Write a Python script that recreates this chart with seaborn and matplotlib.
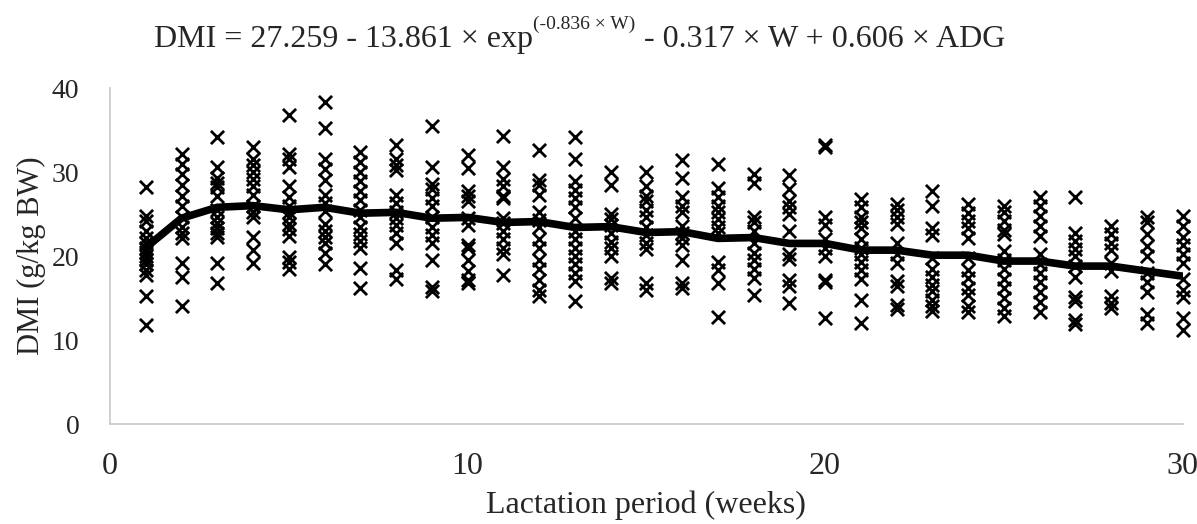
import matplotlib
matplotlib.use("Agg")
import matplotlib.pyplot as plt
import seaborn as sns
import pandas as pd

week_01 = [28.2, 24.8, 24.2, 23.0, 22.2, 21.5, 21.0, 20.5, 20.0, 19.5, 19.0, 18.3, 17.8, 15.2, 11.8]
week_02 = [32.2, 31.0, 29.8, 28.5, 27.2, 26.0, 24.6, 23.5, 22.8, 22.2, 19.2, 17.5, 14.0]
week_03 = [34.2, 30.6, 29.3, 28.7, 28.2, 27.1, 25.5, 24.7, 23.9, 23.3, 22.8, 22.3, 19.2, 16.8]
week_04 = [33.0, 31.5, 30.8, 30.0, 29.2, 28.3, 27.3, 26.0, 25.2, 24.7, 22.3, 20.7, 19.2]
week_05 = [36.8, 32.2, 31.6, 30.6, 28.3, 27.0, 25.9, 25.2, 24.6, 23.8, 23.2, 22.4, 19.9, 19.3, 18.4]
week_06 = [38.3, 35.3, 31.6, 30.4, 29.1, 27.3, 26.3, 25.4, 23.8, 23.0, 22.3, 21.6, 20.4, 19.0]
week_07 = [32.4, 31.2, 30.0, 28.9, 27.8, 26.7, 25.5, 24.6, 23.5, 22.6, 21.8, 21.0, 18.6, 16.2]
week_08 = [33.2, 31.5, 30.8, 30.2, 27.3, 26.3, 25.2, 24.5, 23.7, 22.7, 21.5, 18.3, 17.3]
week_09 = [35.5, 30.6, 28.6, 28.0, 26.9, 25.9, 24.7, 23.5, 22.5, 21.5, 19.5, 16.3, 15.8]
week_10 = [32.0, 30.5, 27.8, 27.2, 26.6, 24.5, 23.7, 21.3, 20.9, 19.5, 18.2, 17.2, 16.8]
week_11 = [34.3, 30.6, 29.2, 28.3, 27.2, 26.9, 24.5, 23.9, 23.0, 22.0, 21.0, 20.3, 17.7]
week_12 = [32.6, 29.0, 28.4, 27.3, 25.2, 24.3, 23.5, 22.0, 21.0, 19.5, 18.5, 17.2, 16.0, 15.2]
week_13 = [34.2, 31.5, 28.9, 27.9, 26.9, 25.8, 24.5, 23.0, 22.0, 21.0, 20.0, 19.0, 18.0, 17.0, 14.6]
week_14 = [30.0, 28.5, 25.0, 24.4, 23.7, 22.7, 21.7, 21.0, 20.0, 17.4, 16.8]
week_15 = [30.0, 28.3, 27.2, 26.5, 25.5, 24.6, 23.5, 22.5, 21.5, 20.8, 16.8, 15.9]
week_16 = [31.4, 29.3, 27.0, 26.0, 25.2, 23.6, 22.8, 22.2, 21.3, 19.5, 16.8, 16.2]
week_17 = [31.0, 28.1, 27.0, 26.0, 25.2, 24.4, 23.5, 22.7, 19.3, 18.3, 16.8, 12.7]
week_18 = [29.8, 28.7, 24.6, 24.0, 23.0, 21.6, 20.4, 19.5, 18.4, 17.4, 15.4]
week_19 = [29.7, 28.0, 26.6, 25.8, 25.0, 23.0, 20.2, 19.6, 17.2, 16.4, 14.4]
week_20 = [33.2, 33.0, 24.6, 23.7, 22.0, 20.9, 20.0, 17.2, 16.9, 12.6]
week_21 = [26.8, 25.8, 24.7, 24.0, 23.3, 22.0, 21.0, 20.3, 19.3, 18.3, 17.3, 14.8, 12.0]
week_22 = [26.2, 25.5, 24.6, 23.8, 21.6, 20.3, 19.2, 17.0, 16.4, 14.2, 13.7]
week_23 = [27.8, 25.9, 23.3, 22.5, 19.8, 18.5, 17.5, 16.6, 15.8, 14.8, 14.0, 13.4]
week_24 = [26.2, 25.1, 24.2, 23.3, 22.2, 19.8, 18.3, 17.4, 16.2, 15.4, 14.0, 13.3]
week_25 = [26.0, 25.3, 24.2, 23.1, 22.6, 20.6, 19.5, 18.4, 17.3, 16.2, 15.0, 13.8, 12.9]
week_26 = [27.0, 25.9, 24.8, 23.6, 22.4, 20.3, 19.1, 18.0, 16.9, 15.7, 14.5, 13.3]
week_27 = [27.0, 22.8, 21.8, 20.8, 20.0, 18.8, 17.5, 15.1, 14.6, 12.4, 11.9]
week_28 = [23.6, 22.6, 21.6, 20.7, 19.2, 18.2, 15.3, 14.4, 13.8]
week_29 = [24.7, 24.0, 22.6, 21.2, 20.0, 18.0, 16.9, 15.7, 13.1, 12.0]
week_30 = [24.8, 23.6, 22.3, 21.3, 20.3, 19.2, 17.3, 16.0, 15.1, 12.6, 11.2]

# fitted curve per week
weeks = list(range(1, 31))
fit_dmi = [21.0, 24.5, 25.8, 26.0, 25.5, 25.8, 25.1, 25.2, 24.5, 24.6,
           24.0, 24.1, 23.4, 23.5, 22.8, 22.9, 22.1, 22.2, 21.5, 21.5,
           20.7, 20.7, 20.1, 20.1, 19.4, 19.4, 18.8, 18.8, 18.2, 17.6]

obs = [week_01, week_02, week_03, week_04, week_05, week_06, week_07, week_08,
       week_09, week_10, week_11, week_12, week_13, week_14, week_15, week_16,
       week_17, week_18, week_19, week_20, week_21, week_22, week_23, week_24,
       week_25, week_26, week_27, week_28, week_29, week_30]

rows = []
for w, vals in zip(weeks, obs):
    for v in vals:
        rows.append({"week": w, "dmi": v})
df = pd.DataFrame(rows)
fit = pd.DataFrame({"week": weeks, "dmi": fit_dmi})

sns.set_style("white")
plt.rcParams["font.family"] = ["Liberation Serif", "DejaVu Serif"]

fig = plt.figure(figsize=(11.97, 5.24), dpi=100)
ax = fig.add_axes([0.0919, 0.1908, 0.8961, 0.6412])

sns.scatterplot(data=df, x="week", y="dmi", marker="x", color="black",
                s=90, linewidth=2, ax=ax, clip_on=False, zorder=2)
sns.lineplot(data=fit, x="week", y="dmi", color="black", linewidth=5.5,
             ax=ax, zorder=3)

ax.set_xlim(0, 30)
ax.set_ylim(0, 40)
ax.set_xticks([0, 10, 20, 30])
ax.set_yticks([0, 10, 20, 30, 40])
ax.tick_params(axis="y", length=0, labelsize=20, pad=22)
ax.tick_params(axis="x", length=0, labelsize=23, pad=20)
for s in ["top", "right"]:
    ax.spines[s].set_visible(False)
for s in ["left", "bottom"]:
    ax.spines[s].set_color("#c8c8c8")
    ax.spines[s].set_linewidth(1.2)

ax.set_xlabel("Lactation period (weeks)", fontsize=23, labelpad=7)
ax.set_ylabel("DMI (g/kg BW)", fontsize=22, labelpad=4)

# title in three pieces so the superscript sits next to "exp"
t1 = fig.text(0.129, 0.91, "DMI = 27.259 - 13.861 × exp", ha="left",
              va="baseline", fontsize=23)
t2 = ax.annotate("(-0.836 × W)", xy=(1, 0.72), xycoords=t1, ha="left",
                 va="bottom", fontsize=14)
t3 = ax.annotate(" - 0.317 × W + 0.606 × ADG", xy=(1, 0.91),
                 xycoords=(t2, fig.transFigure), ha="left", va="baseline",
                 fontsize=23)

fig.savefig("out.png", dpi=100)
